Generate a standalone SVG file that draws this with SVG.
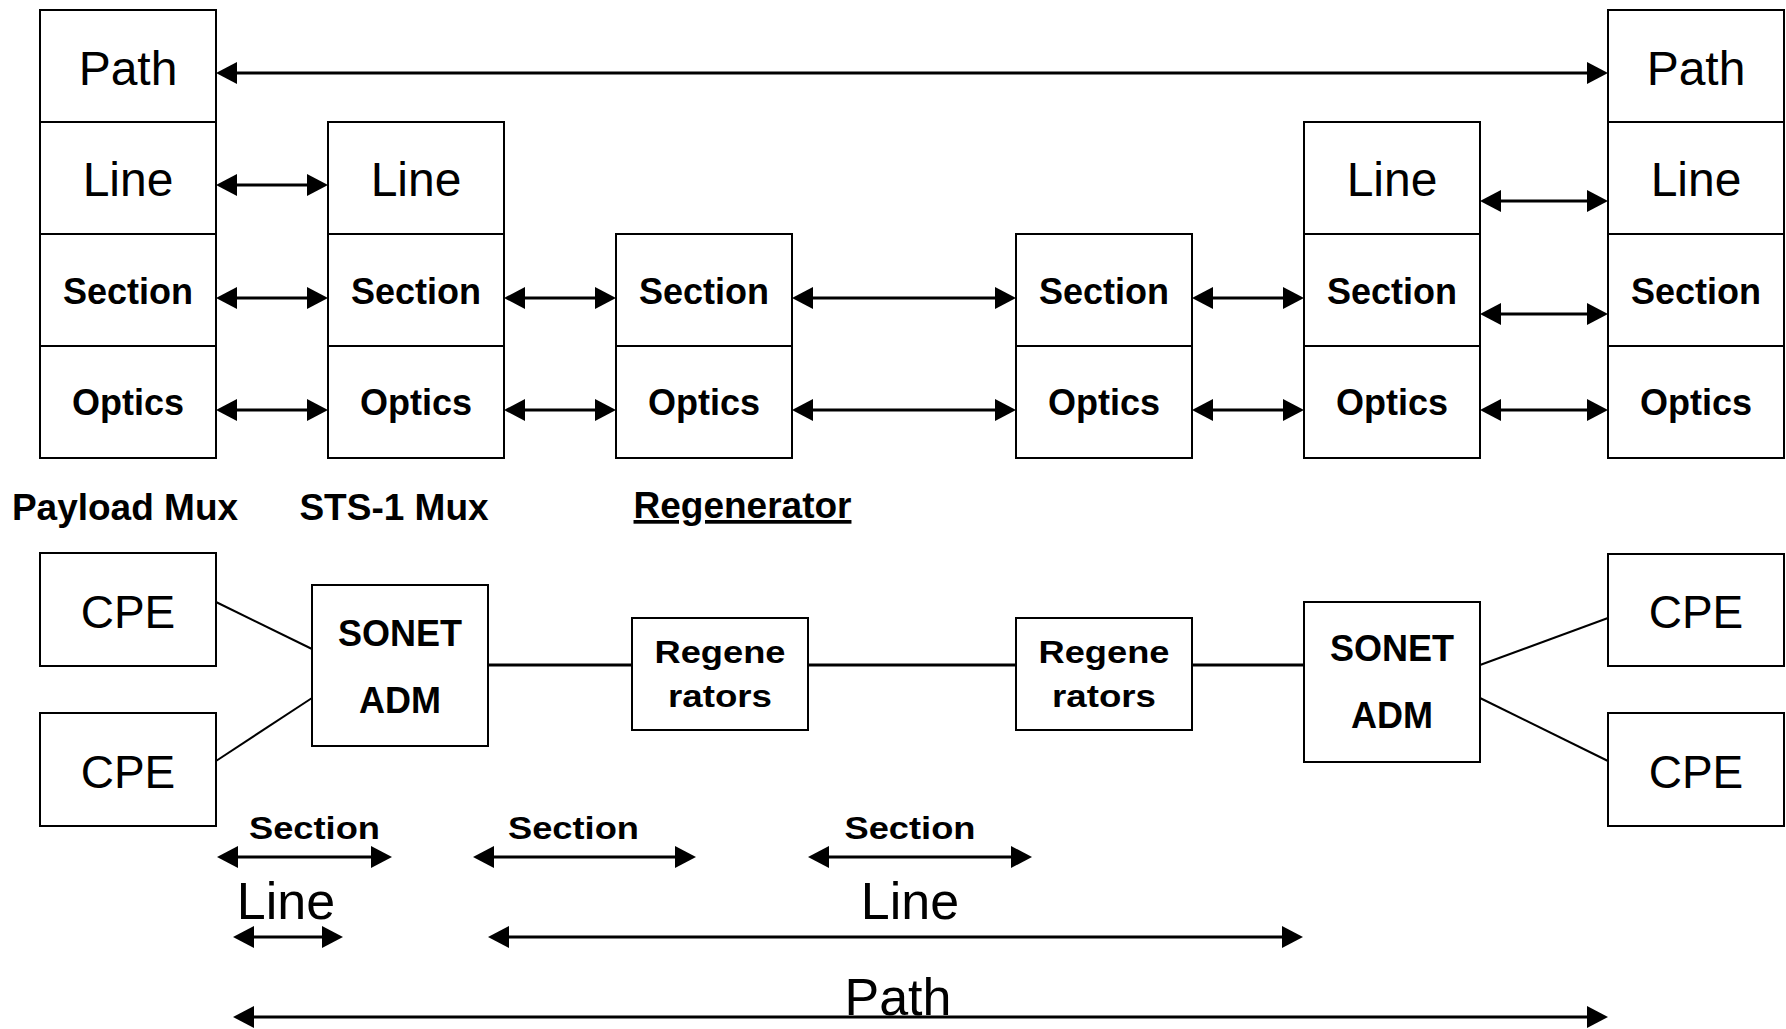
<svg xmlns="http://www.w3.org/2000/svg" width="1786" height="1029" viewBox="0 0 1786 1029">
<defs>
<style>
.cell{fill:#fff;stroke:#000;stroke-width:2}
.big{font-family:"Liberation Sans",Arial,sans-serif;font-size:48px;text-anchor:middle;fill:#000}
.bold{font-family:"Liberation Sans",Arial,sans-serif;font-size:36px;font-weight:bold;text-anchor:middle;fill:#000}
.lbl{font-family:"Liberation Sans",Arial,sans-serif;font-size:37px;font-weight:bold;text-anchor:middle;fill:#000}
.cpe{font-family:"Liberation Sans",Arial,sans-serif;font-size:46px;text-anchor:middle;fill:#000}
.sq{font-family:"Liberation Sans",Arial,sans-serif;font-size:32px;font-weight:bold;text-anchor:middle;fill:#000}
.lg{font-family:"Liberation Sans",Arial,sans-serif;font-size:52px;text-anchor:middle;fill:#000}
.arr{stroke:#000;stroke-width:3;fill:none;marker-start:url(#ah);marker-end:url(#ah)}
.wire{stroke:#000;stroke-width:3;fill:none}
.diag{stroke:#000;stroke-width:2;fill:none}
</style>
<marker id="ah" markerUnits="userSpaceOnUse" markerWidth="22" markerHeight="22" viewBox="0 0 21 22" refX="17" refY="11" orient="auto-start-reverse">
<path d="M0,0 L21,11 L0,22 z" fill="#000"/>
</marker>
</defs>
<rect width="1786" height="1029" fill="#fff"/>

<g id="payload-mux">
<rect class="cell" x="40" y="10" width="176" height="112"/>
<rect class="cell" x="40" y="122" width="176" height="112"/>
<rect class="cell" x="40" y="234" width="176" height="112"/>
<rect class="cell" x="40" y="346" width="176" height="112"/>
<text class="big" x="128" y="85">Path</text>
<text class="big" x="128" y="196">Line</text>
<text class="bold" x="128" y="304">Section</text>
<text class="bold" x="128" y="415">Optics</text>
<text class="lbl" x="125" y="520">Payload Mux</text>
</g>

<g id="sts1-mux">
<rect class="cell" x="328" y="122" width="176" height="112"/>
<rect class="cell" x="328" y="234" width="176" height="112"/>
<rect class="cell" x="328" y="346" width="176" height="112"/>
<text class="big" x="416" y="196">Line</text>
<text class="bold" x="416" y="304">Section</text>
<text class="bold" x="416" y="415">Optics</text>
<text class="lbl" x="394" y="520">STS-1 Mux</text>
</g>

<g id="regenerator-1">
<rect class="cell" x="616" y="234" width="176" height="112"/>
<rect class="cell" x="616" y="346" width="176" height="112"/>
<text class="bold" x="704" y="304">Section</text>
<text class="bold" x="704" y="415">Optics</text>
<text class="lbl" x="742.5" y="518" text-decoration="underline">Regenerator</text>
</g>

<g id="regenerator-2">
<rect class="cell" x="1016" y="234" width="176" height="112"/>
<rect class="cell" x="1016" y="346" width="176" height="112"/>
<text class="bold" x="1104" y="304">Section</text>
<text class="bold" x="1104" y="415">Optics</text>
</g>

<g id="line-mux-right">
<rect class="cell" x="1304" y="122" width="176" height="112"/>
<rect class="cell" x="1304" y="234" width="176" height="112"/>
<rect class="cell" x="1304" y="346" width="176" height="112"/>
<text class="big" x="1392" y="196">Line</text>
<text class="bold" x="1392" y="304">Section</text>
<text class="bold" x="1392" y="415">Optics</text>
</g>

<g id="path-mux-right">
<rect class="cell" x="1608" y="10" width="176" height="112"/>
<rect class="cell" x="1608" y="122" width="176" height="112"/>
<rect class="cell" x="1608" y="234" width="176" height="112"/>
<rect class="cell" x="1608" y="346" width="176" height="112"/>
<text class="big" x="1696" y="85">Path</text>
<text class="big" x="1696" y="196">Line</text>
<text class="bold" x="1696" y="304">Section</text>
<text class="bold" x="1696" y="415">Optics</text>
</g>

<g id="cpe-left-1">
<rect class="cell" x="40" y="553" width="176" height="113"/>
<text class="cpe" x="128" y="628">CPE</text>
</g>
<g id="cpe-left-2">
<rect class="cell" x="40" y="713" width="176" height="113"/>
<text class="cpe" x="128" y="788">CPE</text>
</g>
<g id="adm-left">
<rect class="cell" x="312" y="585" width="176" height="161"/>
<text class="bold" x="400" y="646">SONET</text>
<text class="bold" x="400" y="713">ADM</text>
</g>
<g id="regen-box-1">
<rect class="cell" x="632" y="618" width="176" height="112"/>
<text class="sq" x="720" y="663" textLength="131" lengthAdjust="spacingAndGlyphs">Regene</text>
<text class="sq" x="720" y="707" textLength="104" lengthAdjust="spacingAndGlyphs">rators</text>
</g>
<g id="regen-box-2">
<rect class="cell" x="1016" y="618" width="176" height="112"/>
<text class="sq" x="1104" y="663" textLength="131" lengthAdjust="spacingAndGlyphs">Regene</text>
<text class="sq" x="1104" y="707" textLength="104" lengthAdjust="spacingAndGlyphs">rators</text>
</g>
<g id="adm-right">
<rect class="cell" x="1304" y="602" width="176" height="160"/>
<text class="bold" x="1392" y="661">SONET</text>
<text class="bold" x="1392" y="728">ADM</text>
</g>
<g id="cpe-right-1">
<rect class="cell" x="1608" y="554" width="176" height="112"/>
<text class="cpe" x="1696" y="628">CPE</text>
</g>
<g id="cpe-right-2">
<rect class="cell" x="1608" y="713" width="176" height="113"/>
<text class="cpe" x="1696" y="788">CPE</text>
</g>

<g id="span-labels">
<text class="sq" x="314.5" y="839" textLength="131" lengthAdjust="spacingAndGlyphs">Section</text>
<text class="sq" x="573.5" y="839" textLength="131" lengthAdjust="spacingAndGlyphs">Section</text>
<text class="sq" x="910" y="839" textLength="131" lengthAdjust="spacingAndGlyphs">Section</text>
<text class="lg" x="286" y="919">Line</text>
<text class="lg" x="910" y="919">Line</text>
<text class="lg" x="898" y="1015">Path</text>
</g>

<g id="connectors">
<line class="arr" x1="220" y1="73" x2="1604" y2="73"/>
<line class="arr" x1="220" y1="185" x2="324" y2="185"/>
<line class="arr" x1="220" y1="298" x2="324" y2="298"/>
<line class="arr" x1="220" y1="410" x2="324" y2="410"/>
<line class="arr" x1="508" y1="298" x2="612" y2="298"/>
<line class="arr" x1="508" y1="410" x2="612" y2="410"/>
<line class="arr" x1="796" y1="298" x2="1012" y2="298"/>
<line class="arr" x1="796" y1="410" x2="1012" y2="410"/>
<line class="arr" x1="1196" y1="298" x2="1300" y2="298"/>
<line class="arr" x1="1196" y1="410" x2="1300" y2="410"/>
<line class="arr" x1="1484" y1="201" x2="1604" y2="201"/>
<line class="arr" x1="1484" y1="314" x2="1604" y2="314"/>
<line class="arr" x1="1484" y1="410" x2="1604" y2="410"/>

<line class="diag" x1="216" y1="602" x2="312" y2="649"/>
<line class="diag" x1="216" y1="761" x2="312" y2="698"/>
<line class="wire" x1="488" y1="665" x2="632" y2="665"/>
<line class="wire" x1="808" y1="665" x2="1016" y2="665"/>
<line class="wire" x1="1192" y1="665" x2="1304" y2="665"/>
<line class="diag" x1="1480" y1="665" x2="1608" y2="618"/>
<line class="diag" x1="1480" y1="698" x2="1608" y2="761"/>

<line class="arr" x1="221" y1="857" x2="388" y2="857"/>
<line class="arr" x1="477" y1="857" x2="692" y2="857"/>
<line class="arr" x1="812" y1="857" x2="1028" y2="857"/>
<line class="arr" x1="237" y1="937" x2="339" y2="937"/>
<line class="arr" x1="492" y1="937" x2="1299" y2="937"/>
<line class="arr" x1="237" y1="1017" x2="1604" y2="1017"/>
</g>
</svg>
